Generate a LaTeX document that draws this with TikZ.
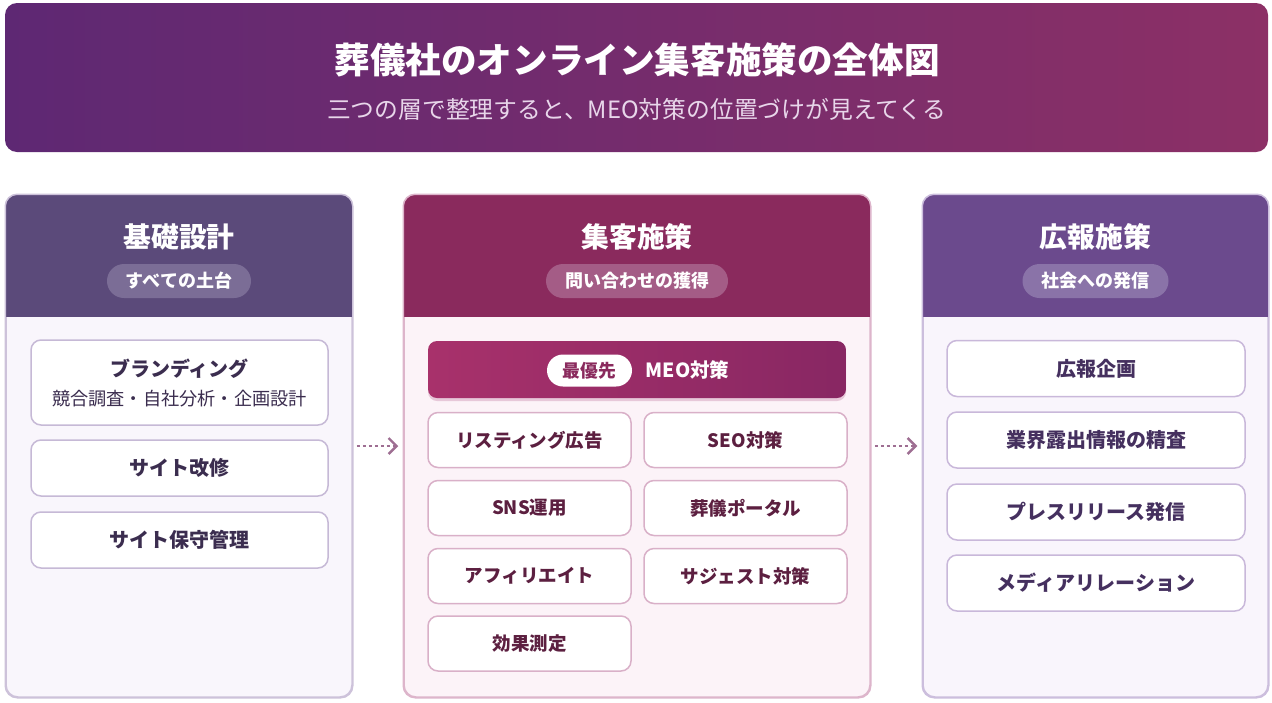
\documentclass[tikz,border=0pt]{standalone}
\usepackage{fontspec}
\setmainfont{Noto Sans CJK JP}
\usetikzlibrary{arrows.meta,shadows}
\definecolor{hdrL}{HTML}{5E2873}
\definecolor{hdrR}{HTML}{8C3066}
\definecolor{subc}{HTML}{E8D6EA}
\definecolor{headA}{HTML}{5B4A7A}
\definecolor{headB}{HTML}{8A2A5D}
\definecolor{headC}{HTML}{6B4A8D}
\definecolor{pillA}{HTML}{7B6D96}
\definecolor{pillB}{HTML}{A45C86}
\definecolor{pillC}{HTML}{8A73A8}
\definecolor{bodyA}{HTML}{F9F6FC}
\definecolor{bodyB}{HTML}{FCF3F8}
\definecolor{bodyC}{HTML}{F9F5FC}
\definecolor{bordA}{HTML}{CDC2DA}
\definecolor{bordB}{HTML}{DDB5CB}
\definecolor{bordC}{HTML}{CCBEDD}
\definecolor{ibordA}{HTML}{C6B9D6}
\definecolor{ibordB}{HTML}{D9B0C8}
\definecolor{ibordC}{HTML}{C9B8DA}
\definecolor{txtA}{HTML}{3B2D4F}
\definecolor{txtB}{HTML}{5C1F40}
\definecolor{txtC}{HTML}{45305F}
\definecolor{meoL}{HTML}{A8316B}
\definecolor{meoR}{HTML}{882763}
\definecolor{meoSh}{HTML}{C27AA0}
\definecolor{arrowc}{HTML}{9E6E92}
\tikzset{
  colbody/.style={draw, line width=1.5pt, rounded corners=12pt, inner sep=0pt},
  coltitle/.style={text=white, font=\bfseries\fontsize{27.8}{30}\selectfont, inner sep=0pt},
  pill/.style={rounded corners=17pt, minimum height=34pt, inner xsep=19pt, inner ysep=0pt, text=white, font=\bfseries\fontsize{18}{20}\selectfont},
  itembox/.style={draw, fill=white, line width=1.5pt, rounded corners=10pt, inner sep=0pt},
  itemA/.style={itembox, draw=ibordA, text=txtA, minimum width=297pt, minimum height=56pt, font=\bfseries\fontsize{20}{22}\selectfont},
  itemB/.style={itembox, draw=ibordB, text=txtB, minimum width=203pt, minimum height=55pt, font=\bfseries\fontsize{18.5}{21}\selectfont},
  itemC/.style={itembox, draw=ibordC, text=txtC, minimum width=298pt, minimum height=56pt, font=\bfseries\fontsize{20}{22}\selectfont},
  flow/.style={draw=arrowc, line width=2pt, dash pattern=on 3pt off 3pt, -{Straight Barb[length=8pt,width=16pt,line width=2.4pt]}}
}
\begin{document}
\begin{tikzpicture}[x=1pt,y=-1pt]
\useasboundingbox (0,0) rectangle (1272,702);
\fill[white] (0,0) rectangle (1272,702);
% banner
\shade[left color=hdrL, right color=hdrR, rounded corners=12pt] (5,3) rectangle (1268,152);
\node[text=white, font=\bfseries\fontsize{35.6}{40}\selectfont] (title) at (637,60) {葬儀社のオンライン集客施策の全体図};
\node[text=subc, font=\fontsize{23.8}{27}\selectfont] (subtitle) at (636.5,109) {三つの層で整理すると、MEO対策の位置づけが見えてくる};

% column 1
\node[colbody, draw=bordA, fill=bodyA, minimum width=346pt, minimum height=502pt] (col1) at (179,446) {};
\begin{scope}
  \clip[rounded corners=12pt] (col1.north west) rectangle (col1.south east);
  \fill[headA] (col1.north west) rectangle (352,317);
\end{scope}
\draw[bordA, line width=1.5pt, rounded corners=12pt] (col1.north west) rectangle (col1.south east);
\node[coltitle] (t1) at (179,237) {基礎設計};
\node[pill, fill=pillA] (p1) at (179,281) {すべての土台};
\node[itemA, minimum height=85pt] (a1) at (179.5,382.5) {};
\node[text=txtA, font=\bfseries\fontsize{20}{22}\selectfont] (a1t) at (179.5,369) {ブランディング};
\node[text=txtA, font=\fontsize{18.2}{20}\selectfont] (a1s) at (179.5,399) {競合調査・自社分析・企画設計};
\node[itemA] (a2) at (179.5,468) {サイト改修};
\node[itemA] (a3) at (179.5,540) {サイト保守管理};

% column 2
\node[colbody, draw=bordB, fill=bodyB, minimum width=466pt, minimum height=502pt] (col2) at (637,446) {};
\begin{scope}
  \clip[rounded corners=12pt] (col2.north west) rectangle (col2.south east);
  \fill[headB] (col2.north west) rectangle (870,317);
\end{scope}
\draw[bordB, line width=1.5pt, rounded corners=12pt] (col2.north west) rectangle (col2.south east);
\node[coltitle] (t2) at (637,237) {集客施策};
\node[pill, fill=pillB] (p2) at (637,281) {問い合わせの獲得};
\node[left color=meoL, right color=meoR, rounded corners=9pt, minimum width=418pt, minimum height=57pt,
      drop shadow={shadow xshift=0pt, shadow yshift=-3pt, opacity=0.35, fill=meoSh}] (meo) at (637,369.5) {};
\node[fill=white, rounded corners=16pt, minimum width=85pt, minimum height=32pt, inner sep=0pt,
      text=headB, font=\bfseries\fontsize{17.8}{20}\selectfont] (prio) at (589.5,370.5) {最優先};
\node[text=white, font=\bfseries\fontsize{19.5}{22}\selectfont] (meot) at (687.5,370) {MEO対策};
\node[itemB] (b1) at (529.5,440) {リスティング広告};
\node[itemB] (b2) at (745.5,440) {SEO対策};
\node[itemB] (b3) at (529.5,508) {SNS運用};
\node[itemB] (b4) at (745.5,508) {葬儀ポータル};
\node[itemB] (b5) at (529.5,576) {アフィリエイト};
\node[itemB] (b6) at (745.5,576) {サジェスト対策};
\node[itemB] (b7) at (529.5,643.5) {効果測定};

% column 3
\node[colbody, draw=bordC, fill=bodyC, minimum width=345pt, minimum height=502pt] (col3) at (1095.5,446) {};
\begin{scope}
  \clip[rounded corners=12pt] (col3.north west) rectangle (col3.south east);
  \fill[headC] (col3.north west) rectangle (1268,317);
\end{scope}
\draw[bordC, line width=1.5pt, rounded corners=12pt] (col3.north west) rectangle (col3.south east);
\node[coltitle] (t3) at (1095.5,237) {広報施策};
\node[pill, fill=pillC] (p3) at (1095.5,281) {社会への発信};
\node[itemC] (c1) at (1096,368.5) {広報企画};
\node[itemC] (c2) at (1096,440) {業界露出情報の精査};
\node[itemC] (c3) at (1096,512) {プレスリリース発信};
\node[itemC] (c4) at (1096,583) {メディアリレーション};

% arrows
\draw[flow] ([xshift=4pt]col1.east) -- ([xshift=-5pt]col2.west);
\draw[flow] ([xshift=4pt]col2.east) -- ([xshift=-5pt]col3.west);
\end{tikzpicture}
\end{document}
